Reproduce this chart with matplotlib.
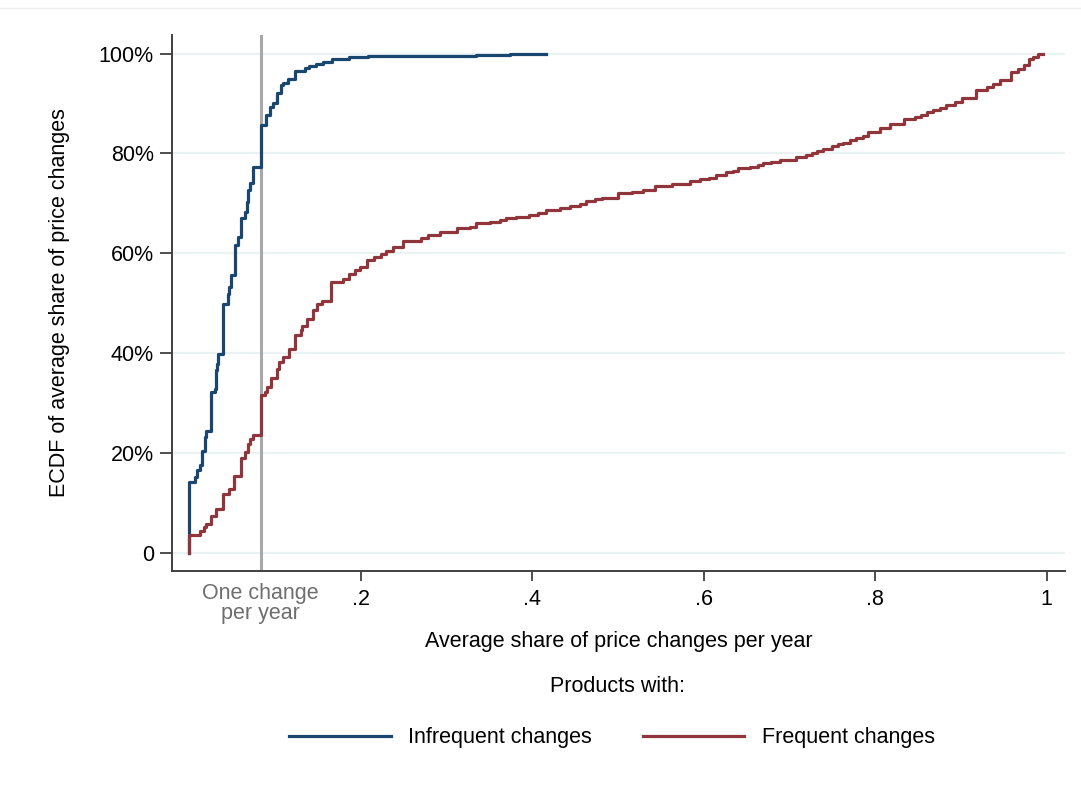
import matplotlib
matplotlib.use("Agg")
import matplotlib.pyplot as plt
from matplotlib.lines import Line2D

plt.rcParams['font.family'] = ['Liberation Sans', 'DejaVu Sans']

# ECDF step points (share of price changes, cumulative share)
infreq_x = [0, 0, 0.0063, 0.009, 0.013, 0.0145, 0.018, 0.020, 0.026, 0.030, 0.031, 0.033,
            0.034, 0.039, 0.045, 0.047, 0.049, 0.053, 0.057, 0.061, 0.065, 0.067, 0.069,
            0.071, 0.074, 1 / 12, 0.090, 0.094, 0.098, 0.103, 0.107, 0.110, 0.115, 0.124,
            0.135, 0.140, 0.148, 0.156, 0.1665, 0.187, 0.2085, 0.334, 0.374, 0.4167]
infreq_y = [0, 0.142, 0.152, 0.166, 0.176, 0.204, 0.232, 0.244, 0.322, 0.329, 0.366, 0.379,
            0.399, 0.499, 0.519, 0.533, 0.556, 0.616, 0.633, 0.670, 0.683, 0.703, 0.726,
            0.740, 0.773, 0.856, 0.876, 0.893, 0.900, 0.920, 0.936, 0.941, 0.948, 0.965,
            0.970, 0.975, 0.980, 0.984, 0.990, 0.993, 0.996, 0.998, 1.0, 1.0]

freq_x = [0, 0, 0.013, 0.017, 0.020, 0.026, 0.031, 0.039, 0.047, 0.052, 0.061, 0.065, 0.0685,
          0.071, 0.074, 1 / 12, 0.088, 0.091, 0.096, 0.102, 0.105, 0.109, 0.117, 0.123, 0.130,
          0.132, 0.137, 0.144, 0.149, 0.155, 0.166, 0.179, 0.187, 0.193, 0.199, 0.207, 0.216,
          0.224, 0.230, 0.238, 0.249, 0.271, 0.279, 0.293, 0.312, 0.327, 0.334, 0.351, 0.363,
          0.369, 0.381, 0.396, 0.407, 0.416, 0.432, 0.444, 0.456, 0.463, 0.473, 0.481, 0.500,
          0.516, 0.529, 0.543, 0.563, 0.584, 0.596, 0.606, 0.615, 0.626, 0.634, 0.640, 0.654,
          0.664, 0.669, 0.679, 0.689, 0.708, 0.720, 0.726, 0.732, 0.739, 0.750, 0.757, 0.763,
          0.771, 0.778, 0.786, 0.792, 0.806, 0.817, 0.834, 0.846, 0.854, 0.860, 0.868, 0.876,
          0.883, 0.893, 0.901, 0.918, 0.930, 0.938, 0.946, 0.959, 0.967, 0.974, 0.979, 0.984,
          0.990, 0.996]
freq_y = [0, 0.037, 0.044, 0.052, 0.059, 0.075, 0.089, 0.118, 0.129, 0.154, 0.191, 0.202, 0.219,
          0.228, 0.236, 0.316, 0.322, 0.332, 0.351, 0.369, 0.382, 0.392, 0.409, 0.436, 0.446,
          0.454, 0.469, 0.486, 0.498, 0.505, 0.543, 0.549, 0.559, 0.566, 0.573, 0.586, 0.593,
          0.598, 0.605, 0.612, 0.624, 0.630, 0.636, 0.643, 0.650, 0.653, 0.660, 0.663, 0.666,
          0.670, 0.673, 0.676, 0.680, 0.686, 0.691, 0.694, 0.698, 0.704, 0.708, 0.711, 0.720,
          0.723, 0.726, 0.734, 0.738, 0.744, 0.748, 0.751, 0.756, 0.762, 0.765, 0.770, 0.773,
          0.776, 0.780, 0.783, 0.786, 0.793, 0.796, 0.800, 0.804, 0.808, 0.814, 0.818, 0.821,
          0.826, 0.831, 0.835, 0.843, 0.850, 0.858, 0.868, 0.872, 0.876, 0.882, 0.886, 0.891,
          0.896, 0.903, 0.910, 0.927, 0.932, 0.938, 0.947, 0.963, 0.968, 0.977, 0.990, 0.994,
          1.0, 1.0]

one_change = 1 / 12
xticks = [0.2, 0.4, 0.6, 0.8, 1.0]
xtick_labels = [".2", ".4", ".6", ".8", "1"]
yticks = [0, 0.2, 0.4, 0.6, 0.8, 1.0]
ytick_labels = ["0", "20%", "40%", "60%", "80%", "100%"]

blue = "#1a476f"
red = "#90353b"
fs = 15.5

fig = plt.figure(figsize=(10.81, 7.89), dpi=100)
ax = fig.add_axes([0.1591, 0.2763, 0.8261, 0.6793])

for y in yticks:
    ax.axhline(y, color="#eaf2f3", lw=1.6, zorder=0)
ax.axvline(one_change, color="#a8a8a8", lw=2.2, zorder=1)

ax.step(infreq_x, infreq_y, where="post", color=blue, lw=2.3, label="Infrequent changes", zorder=2)
ax.step(freq_x, freq_y, where="post", color=red, lw=2.3, label="Frequent changes", zorder=3)

ax.set_xlim(-0.02, 1.0215)
ax.set_ylim(-0.036, 1.037)

ax.set_xticks(xticks)
ax.set_xticklabels(xtick_labels)
ax.set_yticks(yticks)
ax.set_yticklabels(ytick_labels)
ax.tick_params(axis="x", length=7, width=1.3, color="#404040", labelsize=fs, pad=6)
ax.tick_params(axis="y", length=9, width=1.3, color="#404040", labelsize=fs, pad=4)

for s in ["top", "right"]:
    ax.spines[s].set_visible(False)
for s in ["left", "bottom"]:
    ax.spines[s].set_color("#404040")
    ax.spines[s].set_linewidth(1.4)

ax.text(one_change, -0.022, "One change\nper year", transform=ax.get_xaxis_transform(),
        ha="center", va="top", fontsize=fs, color="#6e6e6e", linespacing=0.95)

ax.set_xlabel("Average share of price changes per year", fontsize=fs, labelpad=15)
ax.set_ylabel("ECDF of average share of price changes", fontsize=fs, labelpad=21)

fig.text(617 / 1081, 1 - 686 / 789, "Products with:", ha="center", va="center", fontsize=fs)
fig.legend(loc="center", bbox_to_anchor=(612 / 1081, 1 - 738 / 789), ncol=2, frameon=False,
           fontsize=fs, handlelength=4.7, handletextpad=0.8, columnspacing=2.4)

fig.add_artist(Line2D([0, 1], [1 - 8 / 789, 1 - 8 / 789], color="#eeeeee", lw=1))

fig.savefig("out.png", dpi=100, facecolor="white")
